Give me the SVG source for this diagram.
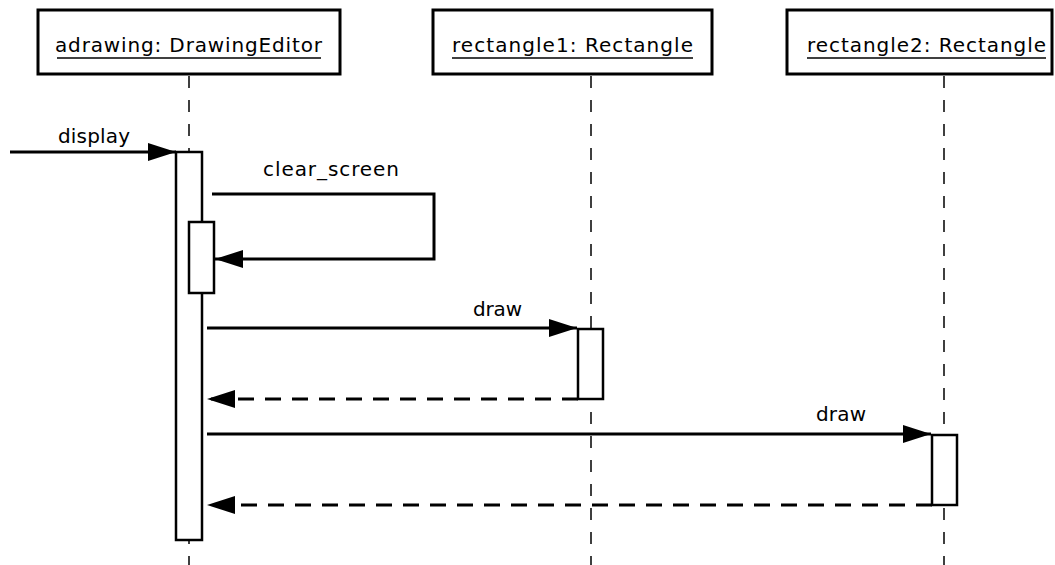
<svg xmlns="http://www.w3.org/2000/svg" width="1055" height="565" viewBox="0 0 1055 565">
<style>
.box{fill:#fff;stroke:#000;stroke-width:3}
.act{fill:#fff;stroke:#000;stroke-width:2.5}
.life{stroke:#000;stroke-width:1.5;stroke-dasharray:12,12;fill:none}
.msg{stroke:#000;stroke-width:3;fill:none}
.ret{stroke:#000;stroke-width:3;fill:none;stroke-dasharray:16,11}
text{font-family:"DejaVu Sans","Verdana",sans-serif;font-size:20px;fill:#000}
.ul{stroke:#000;stroke-width:1.5}
</style>
<defs>
<marker id="ah" markerWidth="28" markerHeight="18" refX="28" refY="9" orient="auto" markerUnits="userSpaceOnUse">
<path d="M0,0 L28,9 L0,18 Z" fill="#000"/>
</marker>
</defs>
<g id="lifelines">
<line class="life" x1="189" y1="76" x2="189" y2="565"/>
<line class="life" x1="591" y1="76" x2="591" y2="565"/>
<line class="life" x1="944" y1="76" x2="944" y2="565"/>
</g>
<g id="adrawing">
<rect class="box" x="38" y="10" width="302" height="64"/>
<text x="55" y="52" textLength="267" lengthAdjust="spacing">adrawing: DrawingEditor</text>
<line class="ul" x1="57" y1="58" x2="321" y2="58"/>
</g>
<g id="rectangle1">
<rect class="box" x="433" y="10" width="279" height="64"/>
<text x="452" y="52" textLength="241" lengthAdjust="spacing">rectangle1: Rectangle</text>
<line class="ul" x1="452" y1="58" x2="693" y2="58"/>
</g>
<g id="rectangle2">
<rect class="box" x="787" y="10" width="265" height="64"/>
<text x="807" y="52" textLength="239" lengthAdjust="spacing">rectangle2: Rectangle</text>
<line class="ul" x1="807" y1="58" x2="1046" y2="58"/>
</g>
<g id="activations">
<rect id="act1" class="act" x="176" y="152" width="26" height="388"/>
<rect id="act1b" class="act" x="189" y="222" width="25" height="71"/>
<rect id="act2" class="act" x="578" y="329" width="25" height="70"/>
<rect id="act3" class="act" x="932" y="435" width="25" height="70"/>
</g>
<g id="connectors">
<line class="msg" x1="10" y1="152" x2="176" y2="152" marker-end="url(#ah)"/>
<polyline class="msg" points="212,194 434,194 434,259 215,259" marker-end="url(#ah)"/>
<line class="msg" x1="207" y1="328" x2="577" y2="328" marker-end="url(#ah)"/>
<line class="ret" x1="578" y1="399" x2="207" y2="399" marker-end="url(#ah)"/>
<line class="msg" x1="207" y1="434" x2="931" y2="434" marker-end="url(#ah)"/>
<line class="ret" x1="932" y1="505" x2="207" y2="505" marker-end="url(#ah)"/>
</g>
<g id="labels">
<text x="58" y="143" textLength="72" lengthAdjust="spacing">display</text>
<text x="263" y="176" textLength="136" lengthAdjust="spacing">clear_screen</text>
<text x="473" y="316" textLength="49" lengthAdjust="spacing">draw</text>
<text x="816" y="421" textLength="50" lengthAdjust="spacing">draw</text>
</g>
</svg>
